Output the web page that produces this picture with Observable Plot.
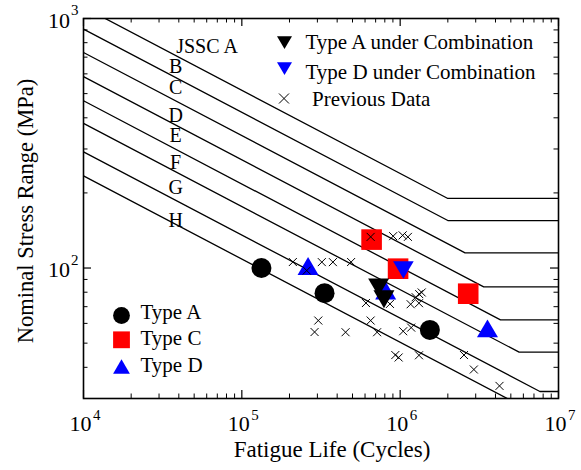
<!DOCTYPE html>
<html>
<head>
<meta charset="utf-8">
<script src="https://cdn.jsdelivr.net/npm/d3@7"></script>
<script src="https://cdn.jsdelivr.net/npm/@observablehq/plot@0.6"></script>
<style>
  body { margin: 0; background: #fff; }
  #chart svg { font-family: "Liberation Serif", "Times New Roman", serif; }
</style>
</head>
<body>
<div id="chart"></div>
<script>
// JSSC fatigue design curves: stress at 10^4 cycles, knee point, constant-amplitude cut-off
const categories     = ["A", "B", "C", "D", "E", "F", "G", "H"];
const categoryLabels = ["JSSC A", "B", "C", "D", "E", "F", "G", "H"];
const startCycles    = 1e4;
const endCycles      = 1e7;
const stressAtStart  = [1111, 906, 731, 585, 468, 380, 292, 234];
const kneeCycles     = [2.0e6, 2.0e6, 2.57e6, 3.37e6, 4.30e6, 5.64e6, 7.63e6, 1.0e7];
const cutoffStress   = [190, 155, 115, 84, 62, 46, 32, 23.4];
// where each curve name sits (cycles, MPa at the text baseline)
const labelCycles    = [6.03e4, 3.82e4, 3.82e4, 3.82e4, 3.82e4, 3.82e4, 3.82e4, 3.82e4];
const labelStress    = [730, 606, 496, 386, 321, 250, 198, 146];

// test results
const typeACycles = [1.33e5, 3.33e5, 1.54e6];
const typeAStress = [100, 79.3, 56.5];
const typeCCycles = [6.6e5, 9.7e5, 2.69e6];
const typeCStress = [130, 99.4, 78.9];
const typeDCycles = [2.62e5, 8.1e5, 3.56e6];
const typeDStress = [101.9, 81.3, 57.3];
const typeAComboCycles = [7.31e5, 7.90e5];
const typeAComboStress = [83.6, 75.0];
const typeDComboCycles = [1.048e6];
const typeDComboStress = [98.2];

// previous data
const prevCycles = [2.10e5, 2.57e5, 3.20e5, 3.76e5, 4.90e5, 6.51e5, 9.03e5, 1.037e6, 1.119e6,
                    6.08e5, 8.62e5, 1.165e6, 1.253e6, 1.319e6, 1.368e6, 1.315e6,
                    3.04e5, 2.88e5, 4.52e5, 6.51e5, 7.15e5, 1.045e6, 1.174e6,
                    9.32e5, 9.78e5, 1.315e6, 2.53e6, 2.92e6, 4.24e6];
const prevStress = [105.7, 97.7, 105.6, 105.6, 105.7, 133.3, 134.2, 135.2, 133.3,
                    72.4, 71.8, 71.6, 76.4, 78.6, 79.8, 72.3,
                    61.6, 55.4, 55.3, 61.6, 55.3, 55.8, 57.7,
                    44.8, 43.8, 44.7, 44.8, 39.2, 33.7];

// axis ticks
const xMajorTicks = [1e4, 1e5, 1e6, 1e7];
const xTickExponents = ["4", "5", "6", "7"];
const xMinorTicks = [2e4, 3e4, 4e4, 5e4, 6e4, 7e4, 8e4, 9e4,
                     2e5, 3e5, 4e5, 5e5, 6e5, 7e5, 8e5, 9e5,
                     2e6, 3e6, 4e6, 5e6, 6e6, 7e6, 8e6, 9e6];
const yMajorTicks = [100, 1000];
const yTickExponents = ["2", "3"];
const yMinorTicks = [40, 50, 60, 70, 80, 90, 200, 300, 400, 500, 600, 700, 800, 900];

const curveRows = categories.flatMap((c, i) => [
  {cat: c, N: startCycles, S: stressAtStart[i]},
  {cat: c, N: kneeCycles[i], S: cutoffStress[i]},
  {cat: c, N: endCycles, S: cutoffStress[i]}
]);
const pts = (N, S) => N.map((n, i) => ({N: n, S: S[i]}));
const curveLabels = categoryLabels.map((t, i) => ({t, N: labelCycles[i], S: labelStress[i]}));

// marker shapes; r is the half-width
const half = s => Math.sqrt(s / Math.PI);
const squareSym = {draw(c, s) { const r = half(s); c.rect(-r, -r, 2 * r, 2 * r); }};
const triUp = {draw(c, s) { const r = half(s), h = 0.85 * r;
  c.moveTo(0, -h); c.lineTo(r, h); c.lineTo(-r, h); c.closePath(); }};
const triDown = {draw(c, s) { const r = half(s), h = 0.85 * r;
  c.moveTo(0, h); c.lineTo(r, -h); c.lineTo(-r, -h); c.closePath(); }};
const crossSym = {draw(c, s) { const r = half(s);
  c.moveTo(-r, -r); c.lineTo(r, r); c.moveTo(-r, r); c.lineTo(r, -r); }};

const W = 581, H = 470, mL = 83, mR = 23, mT = 18, mB = 72;
const innerW = W - mL - mR, innerH = H - mT - mB;
const serif = "Liberation Serif, Times New Roman, serif";
const one = [0];

const legendText = (t, dx, dy) => Plot.text([t], {text: d => d, frameAnchor: "top-left",
  dx, dy, textAnchor: "start", lineAnchor: "bottom", fontSize: 21, fill: "black"});
const legendDot = (symbol, r, fill, dx, dy, extra = {}) => Plot.dot(one, {frameAnchor: "top-left",
  dx, dy, r, symbol, fill, stroke: "none", ...extra});

const chart = Plot.plot({
  width: W, height: H,
  marginLeft: mL, marginRight: mR, marginTop: mT, marginBottom: mB,
  style: {fontFamily: serif, background: "white", color: "black", overflow: "visible"},
  x: {type: "log", domain: [1e4, 1e7], axis: null},
  y: {type: "log", domain: [30, 1000], axis: null},
  marks: [
    // design curves
    Plot.line(curveRows, {x: "N", y: "S", z: "cat", stroke: "black", strokeWidth: 1.3, clip: true}),
    Plot.text(curveLabels, {x: "N", y: "S", text: "t", textAnchor: "middle", lineAnchor: "bottom",
      fontSize: 20, fill: "black"}),

    // specimens
    Plot.dot(pts(typeACycles, typeAStress), {x: "N", y: "S", r: 10, symbol: "circle", fill: "black", stroke: "none"}),
    Plot.dot(pts(typeDCycles, typeDStress), {x: "N", y: "S", r: 10.5, symbol: triUp, fill: "#0000ff", stroke: "none"}),
    Plot.dot(pts(typeCCycles, typeCStress), {x: "N", y: "S", r: 10.3, symbol: squareSym, fill: "#ff0000", stroke: "none"}),
    Plot.dot(pts(typeAComboCycles, typeAComboStress), {x: "N", y: "S", r: 10.5, symbol: triDown, fill: "black", stroke: "none"}),
    Plot.dot(pts(typeDComboCycles, typeDComboStress), {x: "N", y: "S", r: 10.3, symbol: triDown, fill: "#0000ff", stroke: "none"}),
    Plot.dot(pts(prevCycles, prevStress), {x: "N", y: "S", r: 4, symbol: crossSym, fill: "none", stroke: "black", strokeWidth: 1}),

    // frame and inward ticks on all sides
    Plot.frame({stroke: "black", strokeWidth: 1.6}),
    Plot.tickX(xMinorTicks, {x: d => d, insetTop: innerH - 4.5, stroke: "black", strokeWidth: 1}),
    Plot.tickX(xMinorTicks, {x: d => d, insetBottom: innerH - 4.5, stroke: "black", strokeWidth: 1}),
    Plot.tickX(xMajorTicks, {x: d => d, insetTop: innerH - 8, stroke: "black", strokeWidth: 1.2}),
    Plot.tickX(xMajorTicks, {x: d => d, insetBottom: innerH - 8, stroke: "black", strokeWidth: 1.2}),
    Plot.tickY(yMinorTicks, {y: d => d, insetRight: innerW - 4.5, stroke: "black", strokeWidth: 1}),
    Plot.tickY(yMinorTicks, {y: d => d, insetLeft: innerW - 4.5, stroke: "black", strokeWidth: 1}),
    Plot.tickY(yMajorTicks, {y: d => d, insetRight: innerW - 8, stroke: "black", strokeWidth: 1.2}),
    Plot.tickY(yMajorTicks, {y: d => d, insetLeft: innerW - 8, stroke: "black", strokeWidth: 1.2}),

    // tick labels as powers of ten
    Plot.text(xMajorTicks, {x: d => d, text: () => "10", frameAnchor: "bottom", dx: -3, dy: 32,
      textAnchor: "middle", lineAnchor: "bottom", fontSize: 22, fill: "black"}),
    Plot.text(xMajorTicks, {x: d => d, text: (d, i) => xTickExponents[i], frameAnchor: "bottom",
      dx: 9.5, dy: 21, textAnchor: "start", lineAnchor: "bottom", fontSize: 15, fill: "black"}),
    Plot.text(yMajorTicks, {y: d => d, text: () => "10", frameAnchor: "left", dx: -13.5, dy: 9,
      textAnchor: "end", lineAnchor: "bottom", fontSize: 22, fill: "black"}),
    Plot.text(yMajorTicks, {y: d => d, text: (d, i) => yTickExponents[i], frameAnchor: "left",
      dx: -12.5, dy: -3.4, textAnchor: "start", lineAnchor: "bottom", fontSize: 15, fill: "black"}),

    // axis titles
    Plot.text(["Fatigue Life (Cycles)"], {text: d => d, frameAnchor: "bottom", dx: 11, dy: 58,
      textAnchor: "middle", lineAnchor: "bottom", fontSize: 23, fill: "black"}),
    Plot.text(["Nominal Stress Range (MPa)"], {text: d => d, frameAnchor: "left", rotate: -90,
      dx: -50.8, dy: 2.5, textAnchor: "middle", lineAnchor: "bottom", fontSize: 22.5, fill: "black"}),

    // legend, upper right
    legendDot(triDown, 7.5, "black", 201, 24),
    legendText("Type A under Combination", 222, 30),
    legendDot(triDown, 7.5, "#0000ff", 201, 50),
    legendText("Type D under Combination", 222, 60),
    legendDot(crossSym, 5, "none", 200.5, 80, {stroke: "black", strokeWidth: 1}),
    legendText("Previous Data", 228.5, 87.7),

    // legend, lower left
    legendDot("circle", 8.4, "black", 38, 297),
    legendText("Type A", 57, 300),
    legendDot(squareSym, 8.4, "#ff0000", 38, 321.3),
    legendText("Type C", 57, 326.7),
    legendDot(triUp, 8.4, "#0000ff", 38, 348),
    legendText("Type D", 57, 353.4)
  ]
});
document.getElementById("chart").appendChild(chart);
</script>
</body>
</html>
